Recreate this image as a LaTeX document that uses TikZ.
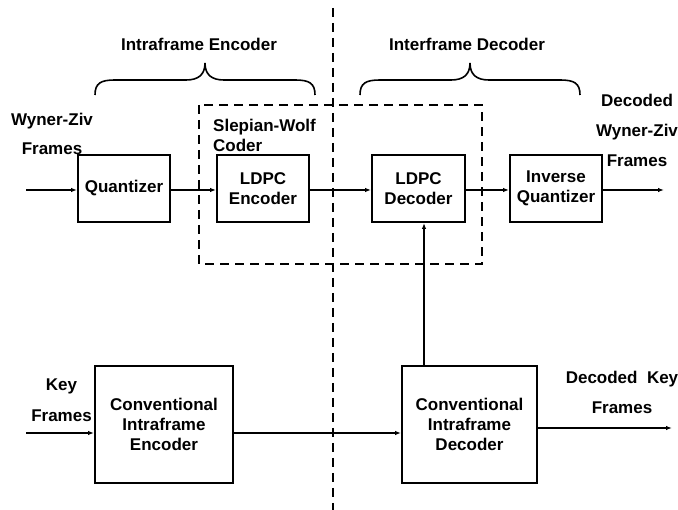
\documentclass[tikz,border=0pt]{standalone}
\usepackage{fontspec}
\setmainfont{Liberation Sans}
\usetikzlibrary{arrows.meta}
\tikzset{
  every node/.style={font=\bfseries\fontsize{17}{20}\selectfont, inner sep=0pt},
  blockbox/.style={draw, line width=1.9pt, align=center},
  smallblock/.style={blockbox, minimum width=92pt, minimum height=67pt},
  bigblock/.style={blockbox, minimum width=137pt, minimum height=117pt},
  flow/.style={line width=1.8pt, -{Latex[length=6pt,width=4.5pt]}},
  boundary/.style={line width=1.8pt, dash pattern=on 9pt off 6pt},
  bracket/.style={line width=1.6pt},
  caption/.style={align=center}
}
\begin{document}
\begin{tikzpicture}[x=1pt, y=-1pt]
\useasboundingbox (0,0) rectangle (678,510);

% encoder / decoder split
\draw[boundary] (333,8) -- (333,510);
% Slepian-Wolf coder region
\draw[boundary] (199,105) rectangle (482,264);

% group braces
\draw[bracket] (95,95) .. controls (95,83) and (101,80) .. (115,80) -- (186,80)
  .. controls (198,80) and (205,75) .. (205,63)
  .. controls (205,75) and (212,80) .. (224,80) -- (295,80)
  .. controls (309,80) and (315,83) .. (315,95);
\draw[bracket] (360,95) .. controls (360,83) and (366,80) .. (380,80) -- (451,80)
  .. controls (463,80) and (470,75) .. (470,63)
  .. controls (470,75) and (477,80) .. (489,80) -- (560,80)
  .. controls (574,80) and (580,83) .. (580,95);
\node (encTitle) at (199,44) {Intraframe Encoder};
\node (decTitle) at (467,44) {Interframe Decoder};

% Wyner-Ziv path
\node[smallblock] (quant)   at (124,188.5) {Quantizer};
\node[smallblock] (ldpcenc) at (263,188.5) {LDPC\\Encoder};
\node[smallblock, minimum width=93pt] (ldpcdec) at (418.5,188.5) {LDPC\\Decoder};
\node[smallblock] (invq)    at (556,188.5) {Inverse\\Quantizer};

\node[caption, font=\bfseries\fontsize{17}{29}\selectfont] (wzin) at (52,133.5) {Wyner-Ziv\\Frames};
\node[align=left, anchor=west] (swlabel) at (213,135) {Slepian-Wolf\\Coder};
\node[caption, font=\bfseries\fontsize{17}{30}\selectfont] (wzout) at (637,130) {Decoded\\Wyner-Ziv\\Frames};

\coordinate (wzsrc) at (26,190);
\coordinate (wzdst) at (664,190);
\draw[flow] (wzsrc) -- (wzsrc -| quant.west);
\draw[flow] (quant.east |- wzsrc) -- (ldpcenc.west |- wzsrc);
\draw[flow] (ldpcenc.east |- wzsrc) -- (ldpcdec.west |- wzsrc);
\draw[flow] (ldpcdec.east |- wzsrc) -- (invq.west |- wzsrc);
\draw[flow] (invq.east |- wzsrc) -- (wzdst);

% key frame path
\node[bigblock, minimum width=138pt] (cie) at (164,424.5) {Conventional\\Intraframe\\Encoder};
\node[bigblock, minimum width=135pt] (cid) at (469.5,424.5) {Conventional\\Intraframe\\Decoder};

\node[caption, font=\bfseries\fontsize{17}{31}\selectfont] (keyin) at (61.5,400.5) {Key\\Frames};
\node[caption, font=\bfseries\fontsize{17}{30}\selectfont] (keyout) at (622,392) {Decoded~~Key\\Frames};

\coordinate (keysrc) at (26,433);
\coordinate (keydst) at (672,428);
\coordinate (sideinfo) at (424,300);
\draw[flow] (keysrc) -- (keysrc -| cie.west);
\draw[flow] (cie.east |- keysrc) -- (cid.west |- keysrc);
\draw[flow] (cid.east |- keydst) -- (keydst);
\draw[flow] (sideinfo |- cid.north) -- (sideinfo |- ldpcdec.south);
\end{tikzpicture}
\end{document}
